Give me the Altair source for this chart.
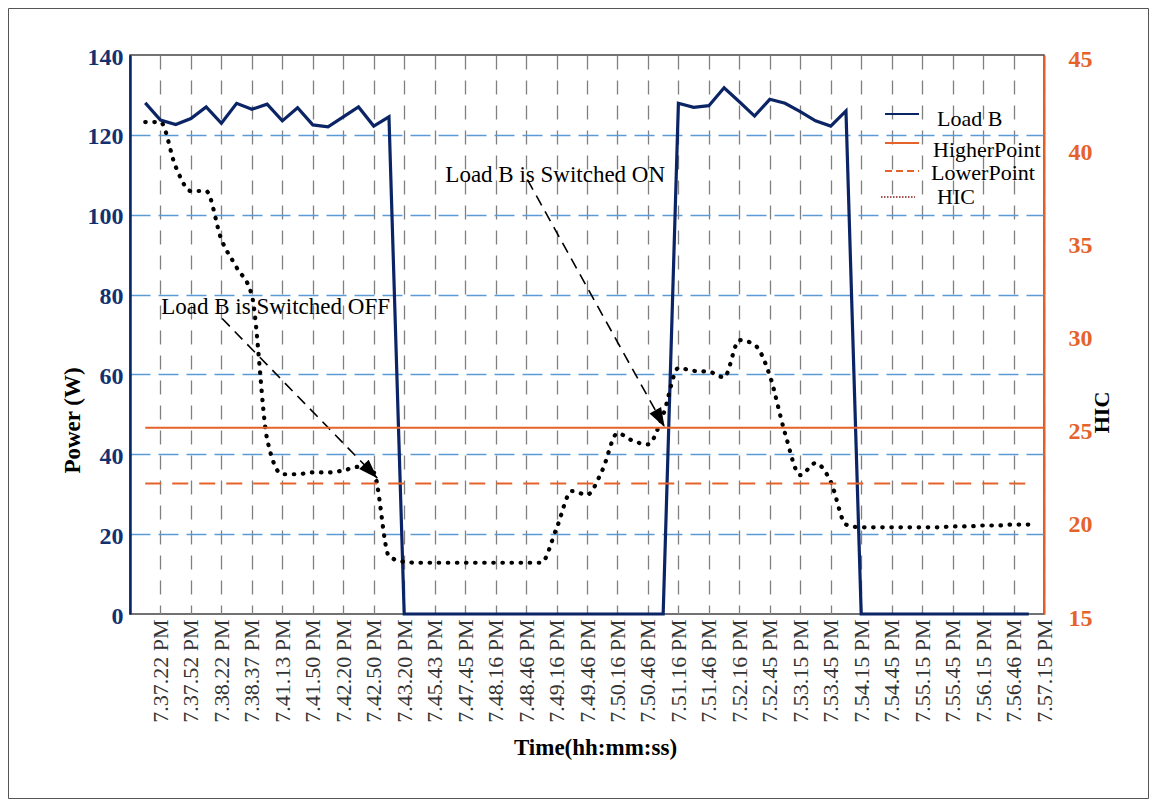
import altair as alt
import pandas as pd

# ---------------- data ----------------
time_labels = ["7.37.22 PM", "7.37.52 PM", "7.38.22 PM", "7.38.37 PM", "7.41.13 PM",
               "7.41.50 PM", "7.42.20 PM", "7.42.50 PM", "7.43.20 PM", "7.45.43 PM",
               "7.47.45 PM", "7.48.16 PM", "7.48.46 PM", "7.49.16 PM", "7.49.46 PM",
               "7.50.16 PM", "7.50.46 PM", "7.51.16 PM", "7.51.46 PM", "7.52.16 PM",
               "7.52.45 PM", "7.53.15 PM", "7.53.45 PM", "7.54.15 PM", "7.54.45 PM",
               "7.55.15 PM", "7.55.45 PM", "7.56.15 PM", "7.56.46 PM", "7.57.15 PM"]

load_b = [128, 123.7, 122.6, 124.1, 127, 122.9, 127.9, 126.4, 127.7, 123.5,
          126.8, 122.5, 122, 124.5, 127, 122.2, 124.5,
          0, 0, 0, 0, 0, 0, 0, 0, 0, 0, 0, 0, 0, 0, 0, 0, 0, 0,
          127.9, 126.9, 127.3, 131.8, 128.3, 124.7, 128.9, 127.9, 125.8, 123.5,
          122.2, 126,
          0, 0, 0, 0, 0, 0, 0, 0, 0, 0, 0, 0]

hic = [41.4, 41.4, 39.0, 37.7, 37.7, 35.1, 33.6, 32.1, 24.4, 22.5,
       22.5, 22.6, 22.6, 22.7, 22.9, 22.6, 18.1,
       17.8, 17.75, 17.75, 17.75, 17.75, 17.75, 17.75, 17.75, 17.75, 17.75,
       19.6, 21.6, 21.4, 22.7, 24.7, 24.3, 24.1, 25.7, 28.2, 28.05,
       28.0, 27.7, 29.7, 29.45, 27.8, 24.7, 22.45, 23.1, 22.1, 19.8,
       19.65, 19.65, 19.65, 19.65, 19.65, 19.65, 19.7, 19.7, 19.75, 19.75,
       19.8, 19.8]

idx = list(range(len(load_b)))

threshold_names = ["HigherPoint", "LowerPoint"]
threshold_values = [25, 22]
threshold_start = [0, 0]
threshold_end = [59, 58]

note_texts = ["Load B is Switched OFF", "Load B is Switched ON"]
note_x = [1.05, 19.7]
note_y = [77, 110]
arrow_x = [5.05, 25.1]
arrow_y = [74.0, 108.7]
arrow_x2 = [15.24, 34.1]
arrow_y2 = [34.0, 46.8]
arrow_angle = [316, 331]

legend_labels = ["Load B", "HigherPoint", "LowerPoint", "HIC"]

# ---------------- styles ----------------
NAVY = "#0b2466"
NAVY_LBL = "#13306f"
ORANGE = "#e5622a"
SERIF = "Liberation Serif"

df = pd.DataFrame({"idx": idx, "load_b": load_b, "hic": hic})
df_thr = pd.DataFrame({"name": threshold_names, "value": threshold_values,
                       "x0": threshold_start, "x1": threshold_end})
df_notes = pd.DataFrame({"x": note_x, "y": note_y, "t": note_texts})
df_arrows = pd.DataFrame({"x": arrow_x, "y": arrow_y, "x2": arrow_x2, "y2": arrow_y2,
                          "ang": arrow_angle})

label_expr = "[" + ",".join("'" + t + "'" for t in time_labels) + "][(datum.value - 1) / 2]"

x_scale = alt.Scale(domain=[-1, 59], nice=False, zero=False)
x_axis = alt.Axis(values=list(range(1, 60, 2)), labelExpr=label_expr, labelAngle=270,
                  labelFont=SERIF, labelFontSize=22, labelColor="#333333", labelPadding=5,
                  labelOverlap=False, labelFlush=False, ticks=False, domain=False,
                  grid=True, gridDash=[14, 11], gridColor="#808080", gridWidth=1.3,
                  title="Time(hh:mm:ss)", titleFont=SERIF, titleFontSize=23,
                  titleFontWeight="bold", titleColor="black", titleX=465, titleY=133,
                  titleBaseline="middle", titleAlign="center")

p_scale = alt.Scale(domain=[0, 140], nice=False, zero=True)
p_axis = alt.Axis(orient="left", values=[0, 20, 40, 60, 80, 100, 120, 140],
                  labelFont=SERIF, labelFontSize=24, labelFontWeight="bold",
                  labelColor=NAVY_LBL, labelPadding=7, labelOffset=2, ticks=False,
                  domainColor=NAVY, domainWidth=2.5,
                  grid=True, gridDash=[20, 8], gridColor="#5b9bd5", gridWidth=1.3,
                  gridOpacity={"condition": {"test": "datum.value === 0 || datum.value === 140",
                                             "value": 0}, "value": 1},
                  title="Power (W)", titleFont=SERIF, titleFontSize=23,
                  titleFontWeight="bold", titleColor="black", titleAngle=270,
                  titleX=-58, titleY=365, titleBaseline="middle", titleAlign="center")

h_scale = alt.Scale(domain=[15, 45], nice=False, zero=False)
h_axis = alt.Axis(orient="right", values=[15, 20, 25, 30, 35, 40, 45],
                  labelFont=SERIF, labelFontSize=24, labelFontWeight="bold",
                  labelColor=ORANGE, labelPadding=24, labelOffset=4, ticks=False,
                  domainColor=ORANGE, domainWidth=2, grid=False,
                  title="HIC", titleFont=SERIF, titleFontSize=22, titleFontWeight="bold",
                  titleColor="black", titleAngle=270, titleX=57, titleY=357,
                  titleBaseline="middle", titleAlign="center")

def X(field):
    return alt.X(field, scale=x_scale, axis=x_axis)

def YP(field):
    return alt.Y(field, scale=p_scale, axis=p_axis)

def YH(field):
    return alt.Y(field, scale=h_scale, axis=h_axis)

# ---------------- right (HIC) layers ----------------
hic_line = alt.Chart(df).mark_line(color="black", strokeWidth=4.2, strokeDash=[0.5, 8.6],
                                   strokeCap="round", interpolate="monotone").encode(
    x=X("idx:Q"), y=YH("hic:Q"),
)
thr_hi = alt.Chart(df_thr).transform_filter(alt.datum.name == "HigherPoint").mark_rule(
    color=ORANGE, strokeWidth=2).encode(
    x=X("x0:Q"), x2="x1:Q", y=YH("value:Q"),
)
thr_lo = alt.Chart(df_thr).transform_filter(alt.datum.name == "LowerPoint").mark_rule(
    color=ORANGE, strokeWidth=2, strokeDash=[16, 11]).encode(
    x=X("x0:Q"), x2="x1:Q", y=YH("value:Q"),
)
right = alt.layer(hic_line, thr_hi, thr_lo)

# ---------------- left (Power) layers ----------------
load_line = alt.Chart(df).mark_line(color=NAVY, strokeWidth=3.2).encode(
    x=X("idx:Q"), y=YP("load_b:Q"),
)
arrows = alt.Chart(df_arrows).mark_rule(color="black", strokeWidth=1.6,
                                        strokeDash=[11, 7]).encode(
    x=X("x:Q"), x2="x2:Q", y=YP("y:Q"), y2="y2:Q",
)
heads = alt.Chart(df_arrows).mark_point(shape="M0,0L-0.34,-1L0.34,-1Z", filled=True,
                                        color="black", opacity=1, size=1500).encode(
    x=X("x2:Q"), y=YP("y2:Q"),
    angle=alt.Angle("ang:Q", scale=None),
)
notes = alt.Chart(df_notes).mark_text(align="left", baseline="middle", font=SERIF,
                                      fontSize=23, color="black").encode(
    x=X("x:Q"), y=YP("y:Q"), text="t:N",
)
left = alt.layer(load_line, arrows, heads, notes)

# ---------------- manual legend ----------------
def leg_rule(label, y, x1, x2, color, dash, width):
    kw = dict(color=color, strokeWidth=width)
    if dash is not None:
        kw["strokeDash"] = dash
    return alt.Chart(pd.DataFrame({"t": [label]})).mark_rule(**kw).encode(
        x=alt.value(x1), x2=alt.value(x2), y=alt.value(y))

def leg_text(label, x, y):
    return alt.Chart(pd.DataFrame({"t": [label]})).mark_text(
        align="left", baseline="middle", font=SERIF, fontSize=22, color="black").encode(
        x=alt.value(x), y=alt.value(y), text="t:N")

legend = alt.layer(
    leg_rule(legend_labels[0], 59, 755, 789, NAVY, None, 2),
    leg_rule(legend_labels[1], 88, 755, 789, ORANGE, None, 2),
    leg_rule(legend_labels[2], 116, 755, 789, ORANGE, [7, 4], 2),
    leg_rule(legend_labels[3], 142, 751, 785, "#8b1a1a", [1.5, 1.5], 1.5),
    leg_text(legend_labels[0], 807, 64),
    leg_text(legend_labels[1], 803, 95),
    leg_text(legend_labels[2], 801, 118),
    leg_text(legend_labels[3], 807, 142),
)

frame = alt.Chart(pd.DataFrame({"t": ["frame"]})).mark_rect(
    fill=None, stroke="#555555", strokeWidth=1).encode(
    x=alt.value(-121.5), x2=alt.value(1018.5), y=alt.value(-46.5), y2=alt.value(743.5))

chart = alt.layer(left, right, legend, frame).resolve_scale(y="independent").properties(
    width=914, height=559,
    autosize=alt.AutoSizeParams(type="none"),
    padding={"left": 122, "top": 47, "right": 105, "bottom": 185},
    background="white",
).configure_view(stroke="#444444", strokeWidth=1.5)

chart.save("out.html", embed_options={"renderer": "svg", "actions": False})
